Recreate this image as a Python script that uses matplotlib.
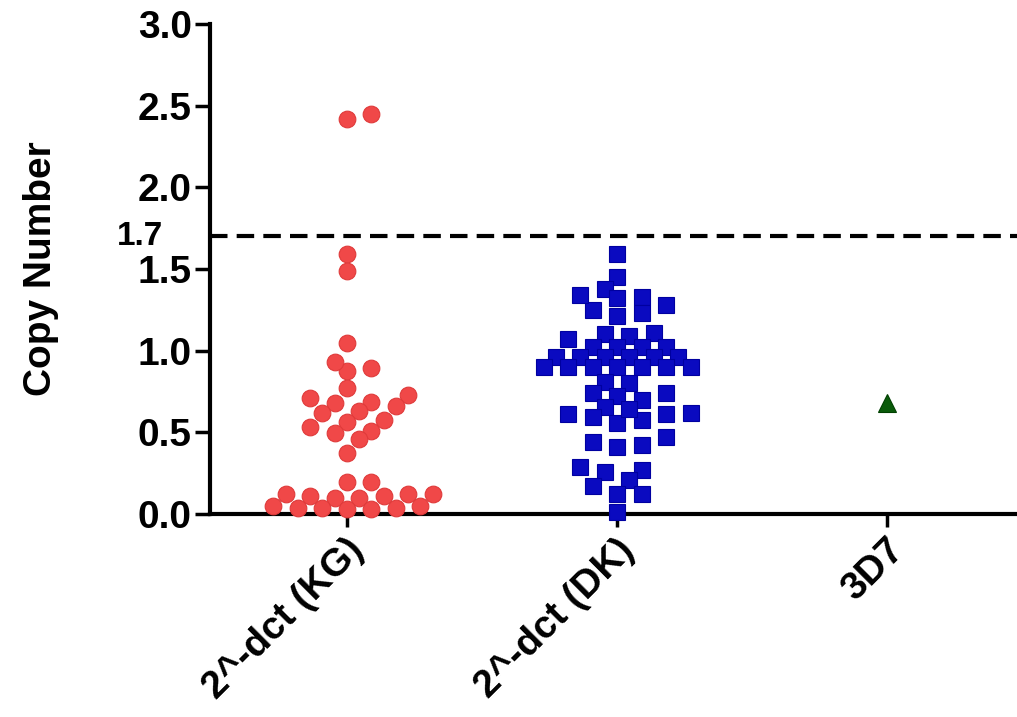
import numpy as np
import matplotlib
matplotlib.use("Agg")
import matplotlib.pyplot as plt
import matplotlib.transforms as mtransforms

plt.rcParams['font.family'] = ['Liberation Sans', 'DejaVu Sans']

# values
groups = ['2^-dct (KG)', '2^-dct (DK)', '3D7']

kg_vals = [2.42, 2.45, 1.59, 1.49, 1.045, 0.896, 0.876, 0.933, 0.77,
           0.712, 0.678, 0.688, 0.729, 0.661, 0.617, 0.633, 0.565, 0.494,
           0.531, 0.576, 0.510, 0.457, 0.372, 0.198, 0.198,
           0.12, 0.11, 0.12, 0.10, 0.11, 0.12, 0.10,
           0.04, 0.05, 0.03, 0.04, 0.05, 0.03, 0.04]

dk_vals = [1.59, 1.45, 1.38, 1.33, 1.28, 1.23, 1.21, 1.25, 1.32, 1.34,
           1.09, 1.07, 1.11, 1.10,
           1.02, 1.02, 1.02, 1.02,
           0.96, 0.96, 0.96, 0.96, 0.96, 0.96,
           0.90, 0.90, 0.90, 0.90, 0.90, 0.90, 0.90,
           0.80, 0.81,
           0.74, 0.70, 0.72, 0.74,
           0.61, 0.61, 0.575, 0.655, 0.557, 0.595, 0.618, 0.643,
           0.44, 0.41, 0.42, 0.47,
           0.27, 0.26, 0.29,
           0.21, 0.12, 0.17, 0.12, 0.01]

ref_vals = [0.68]

cutoff = 1.7
yticks = [0.0, 0.5, 1.0, 1.5, 2.0, 2.5, 3.0]

XLIM = (-0.507, 2.48)
YLIM = (0, 3.0)
AX_RECT = [0.2065, 0.283, 0.7935, 0.6835]
W, H = 1017, 717


def swarm(vals, center, step_px=24.5, min_px=15.0):
    # prism-like column scatter: half-step slots, nearest free slot to center
    sx = AX_RECT[2] * W / (XLIM[1] - XLIM[0])   # px per x unit
    sy = AX_RECT[3] * H / (YLIM[1] - YLIM[0])   # px per y unit
    vals = np.asarray(vals, dtype=float)
    xs = np.zeros(len(vals))
    placed = []
    cands = [0]
    for k in range(1, 30):
        cands += [k, -k]
    for i in np.argsort(vals):
        v = vals[i] * sy
        for k in cands:
            x = k * step_px / 2
            if all(np.hypot(x - px, v - py) >= min_px for px, py in placed):
                break
        placed.append((x, v))
        xs[i] = center + x / sx
    return xs


fig = plt.figure(figsize=(W / 100, H / 100), dpi=100)
ax = fig.add_axes(AX_RECT)

ax.plot(swarm(kg_vals, 0), kg_vals, 'o', color='#f04848', ms=12,
        mec='#e03a3a', mew=0.8, clip_on=False, zorder=3)
ax.plot(swarm(dk_vals, 1), dk_vals, 's', color='#0a0ac0', ms=11.5,
        mec='#0000a0', mew=0.8, clip_on=False, zorder=3)
ax.plot(swarm(ref_vals, 2), ref_vals, '^', color='#0a5a0a', ms=13,
        mec='#004000', mew=0.8, clip_on=False, zorder=3)

ax.axhline(cutoff, color='black', lw=3, dashes=(4.2, 2.2), zorder=2)

ax.set_xlim(*XLIM)
ax.set_ylim(*YLIM)
ax.set_xticks(range(len(groups)))
ax.set_xticklabels(groups, rotation=45, ha='right', va='center',
                   rotation_mode='anchor', fontsize=28, fontweight='bold')
ax.set_yticks(yticks)
ax.set_yticklabels(['%.1f' % t for t in yticks], fontsize=28,
                   fontweight='bold')

for sp in ['top', 'right']:
    ax.spines[sp].set_visible(False)
for sp in ['left', 'bottom']:
    ax.spines[sp].set_linewidth(3)
ax.tick_params(axis='y', length=11, width=2.5, pad=2)
ax.tick_params(axis='x', length=9, width=2.5, pad=13)

# shift x labels a bit right like the original
off = mtransforms.ScaledTranslation(8 / 72, 0, fig.dpi_scale_trans)
for lab in ax.get_xticklabels():
    lab.set_transform(lab.get_transform() + off)

ax.text(-0.681, cutoff, '1.7', ha='right', va='center', fontsize=24,
        fontweight='bold')

ax.set_ylabel('Copy Number', fontsize=28, fontweight='bold')
ax.yaxis.set_label_coords(-0.187, 0.5)

fig.savefig('out.png', dpi=100)
